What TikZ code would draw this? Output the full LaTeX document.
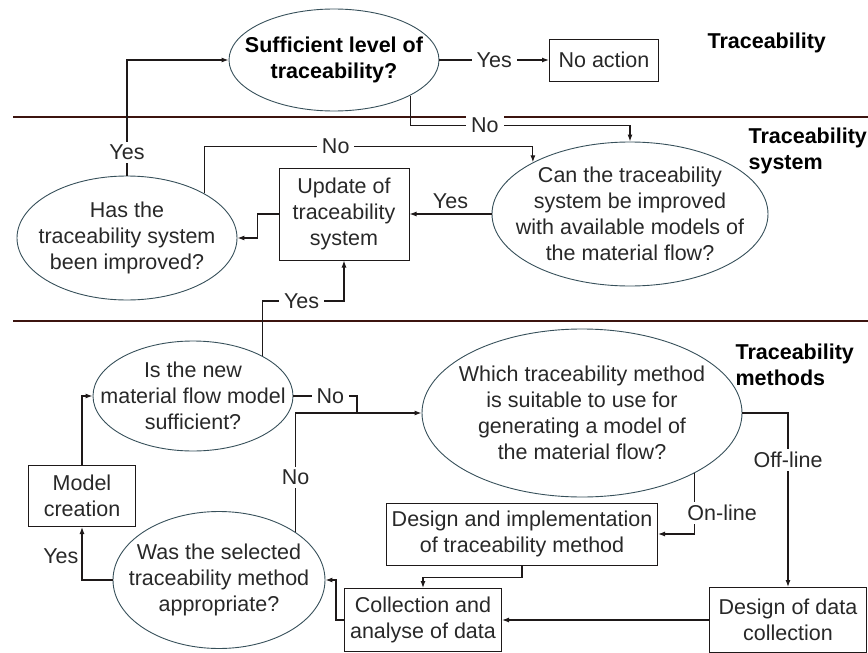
\documentclass[tikz,border=0pt]{standalone}
\usepackage{fontspec}
\setmainfont{Liberation Sans}
\usetikzlibrary{shapes.geometric,arrows.meta}
\definecolor{rimcol}{RGB}{55,80,90}
\definecolor{linecol}{RGB}{30,25,25}
\definecolor{sepcol}{RGB}{60,20,15}
\definecolor{txtcol}{RGB}{40,40,40}

\begin{document}
\begin{tikzpicture}[x=1pt,y=-1pt,line width=1.2pt,color=linecol,
    every node/.style={font=\fontsize{21.5}{26}\selectfont,text=txtcol},
    boldtxt/.style={font=\fontsize{21.5}{26}\selectfont\bfseries,text=black},
    quest/.style={ellipse,draw=rimcol,line width=0.9pt,inner sep=-30pt,align=center},
    act/.style={draw=linecol,line width=1pt,inner sep=0pt,align=center},
    head/.style={boldtxt,align=left,inner sep=0pt,anchor=west},
    lbl/.style={fill=white,inner xsep=5pt,inner ysep=3pt},
    arr/.style={-{Latex[length=7pt,width=5pt]}}]
  \useasboundingbox (0,0) rectangle (868,653);
  \draw[sepcol,line width=1.3pt] (13,117) -- (868,117) (13,321) -- (868,321);
  \draw
    (334,60) node[quest,boldtxt,minimum width=210pt,minimum height=102pt] (suff) {Sufficient level of\\traceability?}
    (604,60) node[act,minimum width=109pt,minimum height=42pt] (noact) {No action}
    (127,238) node[quest,minimum width=220pt,minimum height=124pt] (has) {Has the\\traceability system\\been improved?}
    (344,214) node[act,minimum width=130pt,minimum height=92pt] (upd) {Update of\\traceability\\system}
    (630,214) node[quest,minimum width=276pt,minimum height=144pt] (can) {Can the traceability\\system be improved\\with available models of\\the material flow?}
    (193,396) node[quest,minimum width=200pt,minimum height=110pt] (isnew) {Is the new\\material flow model\\sufficient?}
    (582,413) node[quest,minimum width=320pt,minimum height=168pt] (which) {Which traceability method\\is suitable to use for\\generating a model of\\the material flow?}
    (82,496) node[act,minimum width=107pt,minimum height=61pt] (model) {Model\\creation}
    (219,580) node[quest,minimum width=212pt,minimum height=137pt] (was) {Was the selected\\traceability method\\appropriate?}
    (522,534) node[act,minimum width=271pt,minimum height=62pt] (dimpl) {Design and implementation\\of traceability method}
    (423,620) node[act,minimum width=157pt,minimum height=63pt] (coll) {Collection and\\analyse of data}
    (788,620) node[act,minimum width=157pt,minimum height=65pt] (ddc) {Design of data\\collection};
  \draw
    (707,43) node[head] (hdtrace) {Traceability}
    (748,151) node[head] (hdsys) {Traceability\\system}
    (735,365) node[head] (hdmeth) {Traceability\\methods};
  \coordinate (j1) at (357,413);
  \begin{scope}[arr]
    \draw (has.north) |- node[lbl,pos=.1] (yes1) {Yes} (suff.west);
    \draw (suff) -- node[lbl] (yes2) {Yes} (noact);
    \draw (suff.-25) -- ++(0,30) -| node[lbl,pos=.17] (no1) {No} (can.north);
    \draw (has.30) -- ++(0,-47) -| node[lbl,pos=.2] (no2) {No} (can.152);
    \draw (can) -- node[above=3pt,inner sep=2pt] (yes3) {Yes} (upd);
    \draw (upd.west) -- ++(-21,0) |- (has.east);
    \draw (isnew.30) -- ++(0,-55) -| node[lbl,pos=.24] (yes4) {Yes} (upd.south);
    \draw (was.32) |- node[lbl,pos=.23] (no3) {No} (which.west);
    \draw (model.north) |- (isnew.west);
    \draw (was.west) -| node[left=1pt,inner sep=2pt,pos=.72] (yes5) {Yes} (model.south);
    \draw (which.-28) |- node[lbl,pos=.33,anchor=west,xshift=-13pt] (online) {On-line} (dimpl.east);
    \draw (which.east) -| node[lbl,pos=.635] (offline) {Off-line} (ddc.north);
    \draw (ddc.west) -- (ddc.west -| coll.east);
    \draw (dimpl.south) -- ++(0,12) -| (coll.north);
    \draw (coll.west) -- ++(-8,0) |- (was.east);
  \end{scope}
  \draw (isnew.east) -| node[lbl,pos=.29] (no4) {No} (j1);
\end{tikzpicture}
\end{document}
